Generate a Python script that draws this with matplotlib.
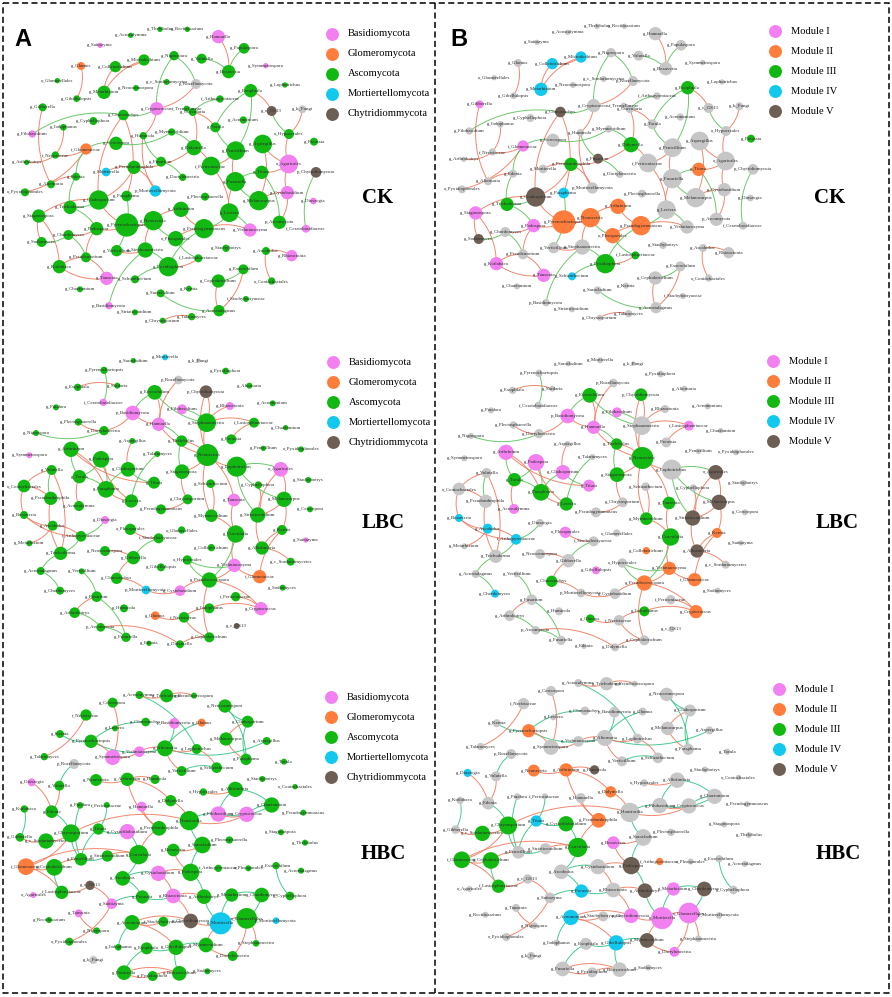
import numpy as np
import matplotlib
matplotlib.use("Agg")
import matplotlib.pyplot as plt
from matplotlib.lines import Line2D

plt.rcParams["font.family"] = ["Liberation Serif", "DejaVu Serif"]

# ---- legend text ----
phylum_labels = ["Basidiomycota", "Glomeromycota", "Ascomycota", "Mortiertellomycota", "Chytridiommycota"]
module_labels = ["Module I", "Module II", "Module III", "Module IV", "Module V"]
treatments = ["CK", "LBC", "HBC"]

phylum_colors = {"B": "#F280F0", "G": "#FF7D3C", "A": "#12B812", "M": "#12C8EC", "C": "#6E5F55", "U": "#C6C6C6"}
module_colors = {1: "#F280F0", 2: "#FF7D3C", 3: "#12B812", 4: "#12C8EC", 5: "#6E5F55", 0: "#C6C6C6"}
pos_color = "#F07A5E"
neg_color = {"CK": "#5CC25C", "LBC": "#5CC25C", "HBC": "#33C483"}

# nodes: (name, x, y, diameter, phylum, module)  -- layout units
CK_nodes = [
    ("g_Thelebolus", 480, 88, 16, "A", 0), ("g_Rectifusarium", 562, 88, 16, "A", 0),
    ("g_Acrocalymma", 392, 106, 16, "A", 0), ("g_Hannaella", 655, 110, 40, "B", 0),
    ("g_Saitozyma", 300, 136, 16, "B", 0), ("g_Papulaspora", 732, 145, 32, "A", 0),
    ("g_Nigrospora", 522, 167, 28, "A", 0), ("g_Volutella", 605, 176, 30, "A", 0),
    ("g_Microdochium", 432, 180, 34, "A", 4), ("g_Glomus", 243, 198, 24, "G", 0),
    ("g_Colletotrichum", 346, 200, 34, "A", 4), ("g_Beauveria", 686, 215, 40, "A", 0),
    ("g_Symmetrospora", 797, 197, 16, "B", 0), ("o_Glomerellales", 172, 242, 16, "A", 0),
    ("g_c_Sordariomycetes", 500, 246, 18, "A", 0), ("p_Rozellomycota", 588, 252, 30, "U", 0),
    ("g_Neocosmospora", 408, 264, 18, "A", 0), ("g_Metarhizium", 312, 277, 40, "A", 4),
    ("g_Lophotrichus", 855, 255, 16, "A", 0), ("g_Exophiala", 752, 272, 40, "A", 3),
    ("g_Gibellulopsis", 230, 296, 20, "A", 0), ("f_Arthopyreniaceae", 660, 297, 22, "A", 0),
    ("g_Gibberella", 128, 322, 24, "A", 1), ("g_Cryptococcus", 470, 326, 40, "B", 0),
    ("f_Tremellaceae", 560, 326, 18, "A", 0), ("g_Clonostachys", 370, 345, 32, "A", 5),
    ("g_Curvularia", 578, 336, 24, "A", 0), ("g_c_GS13", 815, 333, 30, "C", 0),
    ("g_k_Fungi", 907, 328, 24, "U", 0), ("g_Cyphellophora", 280, 363, 24, "A", 0),
    ("g_Iodophanus", 190, 382, 20, "A", 0), ("g_Torula", 646, 382, 30, "A", 0),
    ("g_Acremonium", 730, 360, 22, "A", 0), ("g_Filobasidium", 97, 402, 22, "B", 0),
    ("g_Myrmecridium", 515, 396, 22, "A", 0), ("g_Humicola", 430, 407, 22, "A", 0),
    ("o_Hypocreales", 867, 402, 30, "A", 0), ("g_Preussia", 942, 425, 24, "A", 3),
    ("g_Cercospora", 348, 430, 40, "A", 0), ("f_Glomeraceae", 258, 447, 34, "G", 1),
    ("g_Didymella", 582, 443, 46, "A", 3), ("g_Penicillium", 707, 452, 56, "A", 0),
    ("g_Aspergillus", 788, 432, 56, "A", 0), ("f_Nectriaceae", 166, 465, 22, "A", 0),
    ("g_Arthrobotrys", 80, 487, 16, "A", 0), ("g_Fusarium", 483, 485, 30, "A", 5),
    ("o_Agaricales", 866, 492, 56, "B", 0), ("p_Chytridiomycota", 948, 517, 32, "C", 0),
    ("f_Periconiaceae", 633, 498, 56, "A", 0), ("g_Mortierella", 318, 516, 26, "M", 0),
    ("g_Pseudombrophila", 402, 502, 40, "A", 3), ("g_Titaea", 785, 517, 40, "A", 2),
    ("g_Edenia", 228, 530, 24, "A", 0), ("g_Dactylonectria", 548, 532, 22, "A", 0),
    ("g_Fusariella", 706, 545, 58, "A", 0), ("g_Alternaria", 153, 553, 24, "A", 0),
    ("p_Mortierellomycota", 466, 573, 34, "M", 0), ("o_Pyxidiophorales", 75, 577, 24, "A", 0),
    ("g_Cladosporium", 296, 600, 58, "A", 5), ("g_Paraphoma", 380, 588, 32, "A", 4),
    ("g_Plectosphaerella", 615, 590, 24, "A", 0), ("g_Cystobasidium", 862, 578, 40, "B", 0),
    ("g_Melanocarpus", 776, 602, 58, "A", 0), ("g_Dioszegia", 940, 603, 20, "B", 0),
    ("g_Trichoderma", 210, 622, 40, "A", 3), ("g_Stagonospora", 116, 648, 40, "A", 1),
    ("g_Arthrinium", 543, 628, 46, "A", 2), ("g_Lectera", 688, 638, 56, "A", 0),
    ("g_Podospora", 290, 686, 40, "A", 1), ("g_Pyrenochaetopsis", 380, 675, 70, "A", 2),
    ("g_Neonectria", 460, 662, 58, "A", 2), ("p_Ascomycota", 838, 667, 40, "A", 0),
    ("g_Vishniacozyma", 750, 690, 40, "B", 0), ("f_Ceratobasidiaceae", 918, 686, 24, "B", 0),
    ("g_Chordomyces", 205, 705, 30, "A", 0), ("g_Pseudogymnoascus", 612, 686, 58, "A", 2),
    ("o_Pleosporales", 527, 716, 46, "A", 2), ("g_Sodiomyces", 125, 726, 30, "A", 5),
    ("g_Verticillium", 350, 752, 34, "A", 0), ("g_Stephanonectria", 436, 750, 46, "A", 0),
    ("g_Stachybotrys", 678, 745, 22, "A", 0), ("g_Ascobolus", 798, 753, 24, "A", 0),
    ("g_Rhizoctonia", 875, 767, 34, "B", 0), ("g_Pseudeurotium", 258, 772, 30, "A", 0),
    ("f_Lasiosphaeriaceae", 595, 775, 24, "A", 3), ("g_Pyxidiophora", 505, 800, 58, "A", 3),
    ("g_Kotlabaea", 178, 800, 40, "A", 1), ("g_Exserohilum", 730, 808, 30, "A", 0),
    ("g_Tausonia", 320, 835, 40, "B", 1), ("g_Schizothecium", 405, 838, 24, "A", 4),
    ("g_Cephalotrichum", 655, 843, 40, "A", 0), ("o_Coniochaetales", 815, 843, 22, "A", 0),
    ("g_Chaetomium", 240, 868, 18, "A", 0), ("g_Sarocladium", 482, 880, 24, "A", 0),
    ("g_Kernia", 567, 866, 18, "A", 0), ("f_Stachybotryaceae", 738, 897, 18, "A", 0),
    ("p_Basidiomycota", 327, 917, 22, "B", 0), ("g_Striaticonidium", 405, 937, 18, "A", 0),
    ("g_Acrostalagmus", 657, 932, 34, "A", 0), ("g_Talaromyces", 575, 950, 22, "A", 0),
    ("g_Chrysosporium", 488, 962, 18, "A", 0),
]

# edges: (node, node, sign) ; +1 positive (red), -1 negative (green)
CK_edges = [
    ("g_Glomus", "g_Gibellulopsis", 1), ("g_Colletotrichum", "g_Microdochium", 1),
    ("g_Metarhizium", "g_Microdochium", 1), ("g_Colletotrichum", "g_Metarhizium", 1),
    ("g_Clonostachys", "g_Paraphoma", 1), ("g_Clonostachys", "g_Cladosporium", 1),
    ("g_Hannaella", "g_Beauveria", 1), ("g_Papulaspora", "g_Beauveria", -1),
    ("g_Volutella", "g_Beauveria", -1), ("g_Nigrospora", "g_Cryptococcus", -1),
    ("g_Nigrospora", "p_Rozellomycota", -1), ("g_Cryptococcus", "p_Rozellomycota", 1),
    ("g_Filobasidium", "g_Clonostachys", -1), ("g_Gibberella", "g_Alternaria", 1),
    ("g_Iodophanus", "f_Nectriaceae", 1), ("f_Nectriaceae", "f_Glomeraceae", 1),
    ("f_Nectriaceae", "g_Arthrobotrys", 1), ("o_Pyxidiophorales", "f_Glomeraceae", 1),
    ("g_Alternaria", "g_Edenia", 1), ("f_Glomeraceae", "g_Edenia", -1),
    ("f_Glomeraceae", "g_Cercospora", -1), ("g_Cladosporium", "g_Pseudombrophila", 1),
    ("g_Cladosporium", "g_Trichoderma", -1), ("g_Cladosporium", "g_Stagonospora", 1),
    ("g_Stagonospora", "g_Kotlabaea", 1), ("g_Stagonospora", "g_Sodiomyces", 1),
    ("g_Podospora", "g_Chordomyces", 1), ("g_Podospora", "g_Pyrenochaetopsis", 1),
    ("g_Trichoderma", "g_Podospora", -1), ("g_Sodiomyces", "g_Chordomyces", -1),
    ("g_Chordomyces", "g_Pseudeurotium", -1), ("g_Pyrenochaetopsis", "g_Neonectria", 1),
    ("g_Pyrenochaetopsis", "g_Cladosporium", 1), ("g_Neonectria", "o_Pleosporales", -1),
    ("g_Neonectria", "g_Arthrinium", 1), ("g_Pseudogymnoascus", "o_Pleosporales", 1),
    ("g_Pseudogymnoascus", "g_Arthrinium", 1), ("g_Pseudogymnoascus", "g_Lectera", -1),
    ("g_Pseudogymnoascus", "g_Vishniacozyma", 1), ("g_Pseudogymnoascus", "g_Pyxidiophora", -1),
    ("g_Lectera", "g_Fusariella", 1), ("g_Vishniacozyma", "g_Lectera", -1),
    ("g_Fusariella", "g_Penicillium", 1), ("g_Fusariella", "g_Melanocarpus", -1),
    ("g_Fusariella", "g_Titaea", -1), ("g_Melanocarpus", "g_Aspergillus", 1),
    ("g_Melanocarpus", "g_Cystobasidium", 1), ("g_Aspergillus", "o_Agaricales", 1),
    ("o_Agaricales", "o_Hypocreales", 1), ("o_Agaricales", "g_Cystobasidium", 1),
    ("o_Hypocreales", "g_c_GS13", -1), ("g_c_GS13", "g_Exophiala", 1),
    ("g_k_Fungi", "o_Hypocreales", 1), ("p_Chytridiomycota", "f_Ceratobasidiaceae", -1),
    ("g_Penicillium", "g_Torula", -1), ("g_Torula", "g_Curvularia", 1),
    ("g_Curvularia", "f_Arthopyreniaceae", -1), ("g_Exophiala", "g_Torula", -1),
    ("g_Exophiala", "g_Penicillium", -1), ("f_Periconiaceae", "g_Didymella", 1),
    ("f_Periconiaceae", "g_Lectera", 1), ("g_Didymella", "g_Myrmecridium", -1),
    ("g_Didymella", "g_Pseudombrophila", 1), ("g_Pseudombrophila", "g_Mortierella", 1),
    ("g_Pseudombrophila", "p_Mortierellomycota", 1), ("g_Humicola", "p_Mortierellomycota", 1),
    ("g_Fusarium", "g_Dactylonectria", -1), ("g_Humicola", "g_Fusarium", -1),
    ("g_Myrmecridium", "g_Cercospora", -1), ("g_Clonostachys", "g_Cryptococcus", -1),
    ("g_Paraphoma", "g_Verticillium", -1), ("g_Verticillium", "g_Stephanonectria", 1),
    ("g_Stephanonectria", "g_Pyxidiophora", -1), ("g_Pyxidiophora", "f_Lasiosphaeriaceae", 1),
    ("p_Basidiomycota", "g_Stephanonectria", -1), ("g_Pseudeurotium", "g_Kotlabaea", 1),
    ("g_Tausonia", "g_Kotlabaea", 1), ("g_Tausonia", "g_Pseudeurotium", 1),
    ("g_Ascobolus", "g_Rhizoctonia", 1), ("g_Ascobolus", "o_Coniochaetales", 1),
    ("g_Exserohilum", "g_Cephalotrichum", -1), ("g_Cephalotrichum", "g_Acrostalagmus", 1),
    ("g_Acrostalagmus", "g_Sarocladium", -1), ("g_Talaromyces", "g_Chrysosporium", 1),
    ("g_Exserohilum", "g_Acrostalagmus", 1), ("p_Ascomycota", "g_Titaea", -1),
    ("g_Cystobasidium", "p_Ascomycota", 1), ("o_Pleosporales", "f_Lasiosphaeriaceae", -1),
    ("g_Trichoderma", "g_Edenia", -1), ("g_Titaea", "o_Agaricales", 1),
    ("g_Penicillium", "f_Periconiaceae", 1), ("g_Didymella", "g_Curvularia", 1),
    ("g_Cryptococcus", "g_Humicola", 1), ("g_Podospora", "g_Pseudeurotium", 1),
    ("g_Stephanonectria", "g_Neonectria", 1), ("g_Pyxidiophora", "g_Schizothecium", -1),
]

LBC_nodes = [
    ("g_Sarocladium", 400, 92, 16, "A", 0), ("g_Mortierella", 495, 82, 18, "M", 0),
    ("g_k_Fungi", 595, 92, 14, "U", 0), ("g_Pyrenochaetopsis", 312, 121, 22, "A", 0),
    ("g_Pyxidiophora", 677, 123, 20, "A", 0), ("p_Rozellomycota", 535, 150, 26, "U", 0),
    ("g_Exophiala", 233, 172, 22, "A", 0), ("g_Sordaria", 352, 167, 18, "A", 0),
    ("g_Exserohilum", 464, 187, 44, "A", 3), ("p_Chytridiomycota", 618, 185, 38, "C", 3),
    ("g_Alternaria", 748, 167, 18, "A", 0), ("f_Ceratobasidiaceae", 310, 217, 22, "B", 0),
    ("g_Paralora", 168, 232, 18, "A", 0), ("g_Rhizoctonia", 690, 228, 24, "B", 0),
    ("g_Acremonium", 818, 220, 18, "A", 0), ("p_Basidiomycota", 398, 249, 44, "B", 1),
    ("g_Filobasidium", 546, 238, 30, "B", 1), ("g_Plectosphaerella", 235, 276, 22, "A", 0),
    ("g_Hannaella", 476, 283, 40, "B", 1), ("g_Stephanonectria", 620, 278, 56, "A", 0),
    ("f_Lasiosphaeriaceae", 762, 278, 30, "A", 1), ("g_Chaetomium", 857, 293, 16, "A", 0),
    ("g_Nigrospora", 108, 309, 18, "A", 0), ("g_Dactylonectria", 312, 302, 28, "A", 0),
    ("g_Aspergillus", 397, 333, 18, "A", 0), ("g_Thelebolus", 545, 333, 34, "A", 3),
    ("g_Preussia", 694, 328, 30, "A", 0), ("g_Arthrinium", 213, 358, 46, "A", 1),
    ("g_Symmetrospora", 88, 376, 18, "B", 0), ("g_Talaromyces", 472, 372, 18, "A", 0),
    ("g_Neonectria", 622, 375, 66, "A", 3), ("g_Penicillium", 790, 355, 16, "A", 0),
    ("o_Pyxidiophorales", 903, 358, 18, "A", 0), ("g_Podospora", 303, 388, 50, "A", 1),
    ("g_Volutella", 155, 420, 30, "A", 0), ("g_Cladosporium", 384, 418, 44, "A", 1),
    ("g_Lophotrichus", 710, 410, 60, "A", 0), ("o_Agaricales", 842, 418, 44, "B", 5),
    ("g_Stagonospora", 546, 425, 44, "A", 3), ("g_Stachybotrys", 925, 450, 18, "A", 0),
    ("g_Torula", 238, 440, 40, "A", 3), ("g_Titaea", 462, 458, 36, "A", 1),
    ("o_Coniochaetales", 72, 468, 38, "A", 0), ("g_Schizothecium", 632, 461, 26, "A", 0),
    ("g_Cyphellophora", 775, 465, 22, "A", 0), ("g_Paraphoma", 318, 478, 50, "A", 3),
    ("g_Pseudombrophila", 152, 505, 40, "A", 0), ("g_Chrysosporium", 563, 508, 30, "A", 0),
    ("g_Tausonia", 702, 510, 38, "B", 3), ("g_Lectera", 394, 513, 40, "A", 3),
    ("g_Melanocarpus", 852, 508, 46, "A", 5), ("g_Cercospora", 930, 538, 18, "A", 0),
    ("g_Acrocalymma", 237, 528, 30, "A", 1), ("g_Pseudogymnoascus", 483, 538, 30, "A", 0),
    ("g_Beauveria", 72, 555, 24, "A", 4), ("g_Myrmecridium", 634, 557, 38, "A", 3),
    ("g_Striaticonidium", 773, 555, 46, "A", 5), ("g_Dioszegia", 315, 570, 24, "B", 0),
    ("g_Ascobolus", 158, 587, 30, "A", 4), ("o_Pleosporales", 391, 598, 34, "A", 1),
    ("o_Glomerellales", 545, 600, 22, "A", 0), ("g_Curvularia", 707, 612, 52, "A", 3),
    ("g_Kernia", 846, 600, 30, "A", 2), ("f_Arthopyreniaceae", 243, 619, 32, "A", 4),
    ("f_Stachybotryaceae", 476, 625, 30, "A", 0), ("g_Saitozyma", 918, 630, 16, "B", 0),
    ("g_Metarhizium", 88, 640, 18, "A", 0), ("g_Colletotrichum", 634, 653, 22, "A", 2),
    ("g_Albifimbria", 786, 654, 40, "A", 5), ("g_Trichoderma", 182, 670, 40, "A", 0),
    ("g_Neocosmospora", 315, 663, 30, "A", 0), ("g_Gibberella", 400, 683, 40, "A", 0),
    ("o_Hypocreales", 562, 690, 28, "A", 0), ("g_c_Sordariomycetes", 872, 695, 24, "A", 0),
    ("g_Acrostalagmus", 122, 723, 24, "A", 0), ("g_Verticillium", 245, 724, 18, "A", 0),
    ("g_Gibellulopsis", 483, 712, 24, "A", 1), ("g_Vishniacozyma", 703, 706, 40, "B", 2),
    ("g_Clonostachys", 350, 745, 34, "A", 3), ("g_Pseudocercospora", 628, 750, 46, "A", 2),
    ("f_Glomeraceae", 779, 740, 40, "G", 2), ("g_Chordomyces", 180, 782, 24, "A", 4),
    ("p_Mortierellomycota", 438, 780, 26, "M", 0), ("g_Cystobasidium", 540, 782, 32, "B", 0),
    ("g_Sodiomyces", 848, 773, 18, "A", 0), ("g_Fusarium", 290, 800, 32, "A", 0),
    ("f_Periconiaceae", 707, 800, 28, "A", 0), ("g_Humicola", 372, 835, 24, "A", 0),
    ("g_Arthrobotrys", 224, 848, 32, "A", 0), ("g_Iodophanus", 628, 835, 30, "A", 3),
    ("g_Cryptococcus", 783, 836, 40, "B", 2), ("g_Glomus", 466, 857, 26, "G", 3),
    ("f_Nectriaceae", 552, 862, 32, "A", 0), ("g_c_GS13", 710, 888, 18, "C", 0),
    ("p_Ascomycota", 302, 892, 26, "A", 0), ("g_Fusariella", 378, 922, 28, "A", 0),
    ("g_Edenia", 447, 940, 16, "A", 0), ("g_Didymella", 540, 943, 24, "A", 0),
    ("g_Cephalotrichum", 628, 922, 30, "A", 0),
]

LBC_edges = [
    ("g_Exophiala", "g_Sordaria", 1), ("f_Ceratobasidiaceae", "g_Pyrenochaetopsis", -1),
    ("p_Basidiomycota", "g_Exserohilum", -1), ("p_Basidiomycota", "g_Hannaella", 1),
    ("p_Basidiomycota", "g_Dactylonectria", 1), ("g_Exserohilum", "g_Stephanonectria", -1),
    ("g_Exserohilum", "g_Hannaella", 1), ("p_Rozellomycota", "g_Hannaella", 1),
    ("p_Chytridiomycota", "g_Stephanonectria", 1), ("p_Chytridiomycota", "g_Neonectria", 1),
    ("g_Filobasidium", "g_Stephanonectria", -1), ("g_Rhizoctonia", "g_Stephanonectria", 1),
    ("g_Stephanonectria", "f_Lasiosphaeriaceae", 1), ("f_Lasiosphaeriaceae", "g_Preussia", 1),
    ("g_Neonectria", "g_Stephanonectria", 1), ("g_Neonectria", "g_Thelebolus", 1),
    ("g_Hannaella", "g_Thelebolus", -1), ("g_Hannaella", "g_Neonectria", 1),
    ("g_Neonectria", "g_Stagonospora", 1), ("g_Neonectria", "g_Lophotrichus", 1),
    ("g_Lophotrichus", "o_Agaricales", -1), ("g_Lophotrichus", "g_Striaticonidium", -1),
    ("o_Agaricales", "g_Melanocarpus", 1), ("o_Agaricales", "g_Striaticonidium", 1),
    ("g_Melanocarpus", "g_Striaticonidium", 1), ("g_Striaticonidium", "g_Albifimbria", 1),
    ("g_Albifimbria", "g_Kernia", 1), ("g_Kernia", "g_Melanocarpus", 1),
    ("g_Albifimbria", "g_c_Sordariomycetes", 1), ("g_Curvularia", "g_Myrmecridium", 1),
    ("g_Curvularia", "g_Tausonia", 1), ("g_Curvularia", "g_Vishniacozyma", 1),
    ("g_Vishniacozyma", "g_Pseudocercospora", 1), ("g_Vishniacozyma", "f_Glomeraceae", 1),
    ("f_Glomeraceae", "g_Kernia", 1), ("g_Pseudocercospora", "g_Curvularia", -1),
    ("g_Pseudocercospora", "o_Hypocreales", -1), ("g_Pseudocercospora", "g_Cystobasidium", 1),
    ("g_Pseudocercospora", "g_Cryptococcus", 1), ("g_Cryptococcus", "f_Periconiaceae", 1),
    ("g_Iodophanus", "g_Cryptococcus", 1), ("g_Iodophanus", "f_Nectriaceae", 1),
    ("f_Nectriaceae", "g_Glomus", 1), ("f_Nectriaceae", "g_Cephalotrichum", 1),
    ("g_Cephalotrichum", "g_Pseudocercospora", 1), ("g_Cephalotrichum", "g_Didymella", 1),
    ("p_Ascomycota", "g_Fusariella", -1), ("p_Ascomycota", "g_Arthrobotrys", -1),
    ("g_Fusarium", "g_Fusariella", -1), ("g_Fusarium", "g_Verticillium", -1),
    ("p_Ascomycota", "g_Didymella", 1), ("p_Mortierellomycota", "g_Cystobasidium", 1),
    ("g_Clonostachys", "g_Gibberella", 1), ("g_Gibberella", "g_Neocosmospora", 1),
    ("g_Gibberella", "f_Stachybotryaceae", -1), ("o_Pleosporales", "f_Stachybotryaceae", 1),
    ("g_Dioszegia", "f_Arthopyreniaceae", -1), ("f_Arthopyreniaceae", "g_Ascobolus", 1),
    ("g_Ascobolus", "g_Beauveria", 1), ("g_Beauveria", "f_Arthopyreniaceae", 1),
    ("g_Ascobolus", "g_Metarhizium", 1), ("g_Trichoderma", "g_Acrostalagmus", -1),
    ("g_Trichoderma", "g_Pseudombrophila", 1), ("g_Trichoderma", "f_Arthopyreniaceae", -1),
    ("g_Pseudombrophila", "g_Volutella", -1), ("g_Pseudombrophila", "o_Coniochaetales", 1),
    ("o_Coniochaetales", "g_Volutella", 1), ("o_Coniochaetales", "g_Beauveria", 1),
    ("g_Volutella", "g_Trichoderma", 1), ("g_Arthrinium", "g_Torula", -1),
    ("g_Arthrinium", "g_Paraphoma", 1), ("g_Arthrinium", "g_Titaea", 1),
    ("g_Torula", "g_Paraphoma", -1), ("g_Torula", "g_Podospora", -1),
    ("g_Podospora", "g_Paraphoma", -1), ("g_Podospora", "g_Lectera", 1),
    ("g_Paraphoma", "g_Cladosporium", -1), ("g_Paraphoma", "g_Lectera", 1),
    ("g_Cladosporium", "g_Aspergillus", 1), ("g_Cladosporium", "g_Titaea", -1),
    ("g_Lectera", "g_Talaromyces", -1), ("g_Nigrospora", "g_Dactylonectria", -1),
    ("g_Dactylonectria", "g_Plectosphaerella", 1), ("g_Torula", "g_Acrocalymma", 1),
    ("g_Stagonospora", "g_Thelebolus", -1), ("g_Stagonospora", "g_Chrysosporium", 1),
    ("g_Chrysosporium", "g_Pseudogymnoascus", 1), ("g_Myrmecridium", "g_Schizothecium", 1),
    ("g_Myrmecridium", "g_Neonectria", 1), ("g_Tausonia", "g_Neonectria", 1),
    ("g_Vishniacozyma", "o_Hypocreales", -1), ("g_Striaticonidium", "g_Cyphellophora", 1),
    ("g_Melanocarpus", "g_Lophotrichus", -1), ("g_Chordomyces", "g_Acrostalagmus", -1),
    ("g_Arthrobotrys", "g_Fusarium", 1), ("p_Mortierellomycota", "g_Clonostachys", 1),
]

HBC_nodes = [
    ("g_Acrocalymma", 418, 105, 24, "A", 0), ("g_Trichoderma", 500, 107, 40, "A", 0),
    ("g_Pseudocercospora", 582, 107, 18, "A", 0), ("g_Cercospora", 338, 128, 30, "A", 0),
    ("g_Neocosmospora", 675, 138, 40, "A", 0), ("f_Nectriaceae", 258, 165, 34, "A", 0),
    ("g_Clonostachys", 437, 186, 26, "A", 0), ("p_Basidiomycota", 523, 190, 32, "B", 0),
    ("g_Glomus", 605, 188, 24, "G", 0), ("g_Cladosporium", 743, 185, 36, "A", 0),
    ("g_Kernia", 180, 222, 24, "A", 0), ("g_Lectera", 345, 205, 18, "A", 0),
    ("g_Pyrenochaetopsis", 273, 244, 40, "A", 2), ("g_Melanocarpus", 678, 237, 40, "A", 0),
    ("g_Aspergillus", 800, 243, 24, "A", 0), ("g_Symmetrospora", 338, 292, 46, "B", 0),
    ("g_Vishniacozyma", 418, 275, 32, "B", 0), ("g_Alternaria", 495, 265, 48, "A", 0),
    ("g_Lophotrichus", 590, 267, 30, "A", 0), ("g_Talaromyces", 133, 290, 22, "A", 0),
    ("p_Rozellomycota", 222, 312, 30, "U", 0), ("g_Paraphoma", 738, 298, 34, "A", 0),
    ("g_Torula", 852, 305, 18, "A", 0), ("g_Verticillium", 545, 333, 30, "A", 0),
    ("g_Schizothecium", 650, 323, 32, "A", 0), ("g_Dioszegia", 95, 367, 24, "B", 4),
    ("g_Volutella", 178, 377, 30, "A", 0), ("g_Neonectria", 288, 360, 36, "A", 2),
    ("g_Arthrinium", 382, 358, 40, "A", 2), ("g_Humicola", 465, 358, 28, "A", 5),
    ("g_Stachybotrys", 787, 357, 18, "A", 0), ("o_Hypocreales", 610, 396, 22, "A", 0),
    ("g_Albifimbria", 706, 388, 46, "A", 0), ("o_Coniochaetales", 885, 380, 16, "A", 0),
    ("g_Kotlabaea", 73, 447, 22, "A", 0), ("g_Edenia", 155, 455, 38, "A", 0),
    ("g_Paralora", 240, 436, 20, "A", 0), ("f_Periconiaceae", 320, 435, 18, "A", 0),
    ("g_Hannaella", 425, 440, 30, "B", 0), ("g_Didymella", 512, 422, 34, "A", 2),
    ("g_Chaetomium", 815, 435, 46, "A", 0), ("g_Filobasidium", 655, 462, 46, "B", 0),
    ("g_Cryptococcus", 740, 463, 46, "B", 0), ("g_Pseudogymnoascus", 910, 458, 18, "A", 0),
    ("g_Hansfordia", 568, 482, 58, "A", 0), ("g_Chrysosporium", 213, 520, 54, "A", 3),
    ("g_c_Sordariomycetes", 138, 543, 46, "A", 3), ("g_Gibberella", 60, 532, 26, "A", 0),
    ("g_Titaea", 295, 507, 34, "A", 4), ("g_Cystofilobasidium", 382, 515, 46, "B", 3),
    ("g_Pseudombrophila", 477, 505, 44, "A", 2), ("g_Sarocladium", 607, 555, 50, "A", 0),
    ("g_Plectosphaerella", 688, 540, 22, "A", 0), ("g_Stagonospora", 843, 517, 18, "A", 0),
    ("g_Thelebolus", 915, 548, 18, "A", 0), ("g_Beauveria", 520, 570, 38, "A", 1),
    ("g_Curvularia", 416, 584, 58, "A", 3), ("g_Penicillium", 243, 598, 38, "A", 0),
    ("g_Striaticonidium", 322, 588, 34, "A", 0), ("f_Glomeraceae", 78, 620, 50, "G", 3),
    ("g_Cephalotrichum", 163, 622, 50, "A", 3), ("g_Podospora", 572, 637, 52, "A", 5),
    ("f_Arthopyreniaceae", 655, 625, 22, "A", 2), ("o_Pleosporales", 745, 625, 18, "A", 0),
    ("g_Exserohilum", 828, 617, 22, "A", 0), ("g_Acrostalagmus", 903, 632, 18, "A", 0),
    ("g_Cystobasidium", 475, 640, 46, "B", 0), ("g_Ascobolus", 368, 655, 44, "A", 0),
    ("g_c_GS13", 270, 676, 28, "C", 0), ("o_Agaricales", 100, 705, 18, "B", 0),
    ("f_Lasiosphaeriaceae", 185, 697, 40, "A", 3), ("g_Saitozyma", 335, 731, 32, "B", 0),
    ("g_Preussia", 427, 711, 40, "A", 4), ("g_Rhizoctonia", 520, 708, 44, "B", 0),
    ("g_Arthrobotrys", 612, 710, 44, "A", 5), ("g_Metarhizium", 695, 705, 40, "A", 1),
    ("g_Chordomyces", 785, 705, 44, "A", 5), ("g_Cyphellophora", 870, 708, 26, "A", 0),
    ("g_Tausonia", 236, 760, 24, "B", 0), ("g_Rectifusarium", 147, 780, 18, "A", 0),
    ("g_Acremonium", 396, 788, 46, "A", 4), ("f_Stachybotryaceae", 490, 785, 30, "A", 0),
    ("p_Chytridiomycota", 572, 783, 44, "C", 1), ("g_Mortierella", 662, 790, 66, "M", 1),
    ("o_Glomerellales", 740, 775, 62, "A", 1), ("p_Mortierellomycota", 828, 782, 20, "M", 0),
    ("g_Nigrospora", 290, 812, 20, "A", 0), ("o_Pyxidiophorales", 208, 845, 24, "A", 0),
    ("g_Iodophanus", 355, 862, 20, "A", 0), ("g_Exophiala", 440, 865, 36, "A", 0),
    ("g_Gibellulopsis", 528, 862, 46, "A", 4), ("g_Myrmecridium", 618, 855, 44, "A", 5),
    ("g_Stephanonectria", 768, 850, 20, "A", 0), ("g_Dactylonectria", 698, 888, 30, "A", 1),
    ("g_k_Fungi", 280, 900, 24, "U", 0), ("g_Fusariella", 372, 938, 44, "A", 0),
    ("g_Pyxidiophora", 458, 948, 30, "A", 0), ("g_Botryotrichum", 538, 940, 44, "A", 0),
    ("g_Sodiomyces", 622, 934, 18, "A", 0),
]

HBC_edges = [
    ("g_Acrocalymma", "g_Lophotrichus", -1), ("g_Acrocalymma", "g_Trichoderma", 1),
    ("g_Trichoderma", "g_Pseudocercospora", 1), ("g_Neocosmospora", "g_Cladosporium", -1),
    ("g_Neocosmospora", "g_Paraphoma", -1), ("g_Cladosporium", "g_Paraphoma", -1),
    ("g_Melanocarpus", "g_Cladosporium", 1), ("g_Melanocarpus", "g_Paraphoma", 1),
    ("g_Aspergillus", "g_Alternaria", -1), ("g_Glomus", "g_Alternaria", -1),
    ("p_Basidiomycota", "g_Alternaria", -1), ("g_Clonostachys", "g_Pyrenochaetopsis", -1),
    ("g_Pyrenochaetopsis", "g_Kernia", -1), ("g_Pyrenochaetopsis", "g_Alternaria", -1),
    ("g_Pyrenochaetopsis", "g_Symmetrospora", 1), ("g_Symmetrospora", "g_Cercospora", 1),
    ("f_Nectriaceae", "g_Talaromyces", 1), ("g_Symmetrospora", "g_Vishniacozyma", 1),
    ("g_Vishniacozyma", "g_Alternaria", 1), ("g_Alternaria", "g_Lophotrichus", 1),
    ("g_Lophotrichus", "g_Schizothecium", 1), ("g_Alternaria", "g_Verticillium", 1),
    ("g_Verticillium", "g_Schizothecium", -1), ("p_Rozellomycota", "g_Volutella", -1),
    ("g_Volutella", "g_Edenia", 1), ("g_Edenia", "g_Dioszegia", 1),
    ("g_Kotlabaea", "g_Gibberella", -1), ("g_Gibberella", "g_c_Sordariomycetes", 1),
    ("g_Chrysosporium", "g_c_Sordariomycetes", 1), ("g_Chrysosporium", "g_Penicillium", -1),
    ("g_Chrysosporium", "f_Glomeraceae", 1), ("f_Glomeraceae", "g_Cephalotrichum", 1),
    ("f_Glomeraceae", "f_Lasiosphaeriaceae", 1), ("g_Cephalotrichum", "f_Lasiosphaeriaceae", -1),
    ("g_Cephalotrichum", "g_Penicillium", 1), ("g_Penicillium", "g_Striaticonidium", -1),
    ("g_Penicillium", "g_Titaea", -1), ("g_Titaea", "g_Cystofilobasidium", -1),
    ("g_Striaticonidium", "g_Curvularia", 1), ("g_Curvularia", "g_Cystofilobasidium", -1),
    ("g_Curvularia", "g_Pseudombrophila", 1), ("g_Curvularia", "f_Glomeraceae", 1),
    ("g_Curvularia", "g_Ascobolus", -1), ("g_Neonectria", "g_Arthrinium", 1),
    ("g_Arthrinium", "g_Humicola", 1), ("g_Arthrinium", "g_Pseudombrophila", 1),
    ("g_Arthrinium", "g_Didymella", 1), ("g_Hannaella", "g_Pseudombrophila", 1),
    ("g_Didymella", "g_Hansfordia", 1), ("g_Hansfordia", "g_Sarocladium", -1),
    ("g_Hansfordia", "g_Filobasidium", -1), ("g_Filobasidium", "g_Cryptococcus", 1),
    ("g_Cryptococcus", "g_Chaetomium", -1), ("g_Filobasidium", "g_Chaetomium", -1),
    ("g_Albifimbria", "g_Chaetomium", -1), ("g_Albifimbria", "g_Filobasidium", -1),
    ("g_Albifimbria", "o_Hypocreales", 1), ("g_Hansfordia", "g_Cryptococcus", 1),
    ("g_Sarocladium", "g_Beauveria", 1), ("g_Sarocladium", "g_Podospora", -1),
    ("g_Podospora", "g_Beauveria", 1), ("g_Podospora", "g_Cystobasidium", 1),
    ("g_Podospora", "g_Arthrobotrys", -1), ("g_Cystobasidium", "g_Ascobolus", -1),
    ("g_Ascobolus", "g_Preussia", -1), ("g_Preussia", "g_Rhizoctonia", -1),
    ("g_Rhizoctonia", "g_Arthrobotrys", 1), ("g_Rhizoctonia", "g_Cystobasidium", 1),
    ("g_Rhizoctonia", "p_Chytridiomycota", 1), ("g_Arthrobotrys", "g_Mortierella", -1),
    ("g_Metarhizium", "g_Chordomyces", -1), ("g_Metarhizium", "g_Mortierella", -1),
    ("g_Chordomyces", "o_Glomerellales", -1), ("o_Glomerellales", "g_Mortierella", 1),
    ("g_Mortierella", "p_Chytridiomycota", 1), ("g_Mortierella", "g_Myrmecridium", 1),
    ("o_Glomerellales", "g_Dactylonectria", 1), ("g_Myrmecridium", "g_Gibellulopsis", -1),
    ("g_Gibellulopsis", "g_Exophiala", -1), ("g_Gibellulopsis", "g_Acremonium", 1),
    ("g_Acremonium", "p_Chytridiomycota", 1), ("g_Acremonium", "g_Iodophanus", -1),
    ("g_Fusariella", "g_Exophiala", -1), ("g_Fusariella", "g_Pyxidiophora", 1),
    ("g_Botryotrichum", "g_Gibellulopsis", -1), ("g_Botryotrichum", "g_Pyxidiophora", 1),
    ("g_Fusariella", "g_Botryotrichum", 1), ("g_Exserohilum", "g_Cyphellophora", -1),
    ("g_c_GS13", "f_Lasiosphaeriaceae", 1), ("o_Pyxidiophorales", "g_Saitozyma", 1),
    ("g_Saitozyma", "g_Preussia", -1), ("g_Saitozyma", "g_c_GS13", 1),
    ("g_Edenia", "g_Chrysosporium", -1), ("g_Paralora", "g_Penicillium", -1),
    ("f_Periconiaceae", "g_Titaea", -1), ("g_Acremonium", "f_Stachybotryaceae", 1),
    ("g_Nigrospora", "g_Tausonia", 1), ("g_Hansfordia", "g_Chrysosporium", 1),
    ("o_Glomerellales", "g_Stephanonectria", 1), ("g_Myrmecridium", "g_Dactylonectria", 1),
]

FIG_W, FIG_H = 892, 997
fig = plt.figure(figsize=(FIG_W / 100, FIG_H / 100), dpi=100)

def px_axes(left, top, w, h):
    return fig.add_axes([left / FIG_W, 1 - (top + h) / FIG_H, w / FIG_W, h / FIG_H])

# background axes in pixel units (frame, letters, legends)
bg = px_axes(0, 0, FIG_W, FIG_H)
bg.set_xlim(0, FIG_W)
bg.set_ylim(FIG_H, 0)
bg.axis("off")
dash = dict(color="black", lw=1.1, linestyle=(0, (4, 2.2)))
bg.add_line(Line2D([3, 889, 889, 3, 3], [3, 3, 993, 993, 3], **dash))
bg.add_line(Line2D([435, 435], [3, 993], **dash))
bg.text(23, 39, "A", fontsize=17, fontweight="bold", family="Liberation Sans", ha="center", va="center")
bg.text(459, 39, "B", fontsize=17, fontweight="bold", family="Liberation Sans", ha="center", va="center")

# network panels: (nodes, edges, name, A-axes rect, B-axes rect, label x A, label x B, label y)
panels = [
    (CK_nodes, CK_edges, "CK", (0, 0, 447, 330), (437, -3, 447, 330), 378, 830, 198),
    (LBC_nodes, LBC_edges, "LBC", (0, 330, 447, 330), (435, 333, 447, 330), 383, 837, 523),
    (HBC_nodes, HBC_edges, "HBC", (0, 660, 447, 337), (435, 647, 460, 347), 383, 838, 854),
]
legend_rows = {"CK": ((332, 34), (775, 31)), "LBC": ((333, 362), (773, 361)), "HBC": ((331, 697), (779, 689))}

PT_PER_UNIT = 0.24  # 1 layout unit = 1/3 px


def bezier(p0, p1, rad):
    p0, p1 = np.asarray(p0, float), np.asarray(p1, float)
    mid = (p0 + p1) / 2
    d = p1 - p0
    normal = np.array([-d[1], d[0]])
    c = mid + rad * normal
    t = np.linspace(0, 1, 30)[:, None]
    return (1 - t) ** 2 * p0 + 2 * t * (1 - t) * c + t ** 2 * p1


def draw_network(ax, nodes, edges, tname, by_module, h_units):
    ax.set_xlim(0, 1341)
    ax.set_ylim(h_units, 0)
    ax.axis("off")
    pos = {n[0]: (n[1], n[2]) for n in nodes}
    for i, (a, b, s) in enumerate(edges):
        if a not in pos or b not in pos:
            print("missing", tname, a, b)
            continue
        rad = 0.2 if i % 2 else -0.2
        pts = bezier(pos[a], pos[b], rad)
        ax.plot(pts[:, 0], pts[:, 1], color=pos_color if s > 0 else neg_color[tname],
                lw=0.7, alpha=0.9, zorder=1, solid_capstyle="round")
    xs = [n[1] for n in nodes]
    ys = [n[2] for n in nodes]
    sizes = [(n[3] * PT_PER_UNIT) ** 2 for n in nodes]
    if by_module:
        cols = [module_colors[n[5]] for n in nodes]
    else:
        cols = [phylum_colors[n[4]] for n in nodes]
    ax.scatter(xs, ys, s=sizes, c=cols, edgecolors="none", zorder=2)
    for n in nodes:
        ax.text(n[1], n[2], n[0], fontsize=3.5, color="#2a2a2a", ha="center", va="center",
                zorder=3)


for nodes, edges, tname, rectA, rectB, lxA, lxB, ly in panels:
    h_units = rectA[3] * 3
    axA = px_axes(*rectA)
    draw_network(axA, nodes, edges, tname, False, h_units)
    axB = px_axes(*rectB)
    draw_network(axB, nodes, edges, tname, True, h_units)

    bg.text(lxA, ly, tname, fontsize=15, fontweight="bold", ha="center", va="center")
    bg.text(lxB, ly, tname, fontsize=15, fontweight="bold", ha="center", va="center")

    (ax0, ay0), (bx0, by0) = legend_rows[tname]
    for k in range(5):
        bg.plot(ax0, ay0 + 20 * k, "o", ms=9.3, color=phylum_colors["BGAMC"[k]], mec="none")
        bg.text(ax0 + 16, ay0 + 20 * k, phylum_labels[k], fontsize=7.6, va="center", ha="left")
        bg.plot(bx0, by0 + 20 * k, "o", ms=9.3, color=module_colors[k + 1], mec="none")
        bg.text(bx0 + 16, by0 + 20 * k, module_labels[k], fontsize=7.6, va="center", ha="left")

fig.savefig("out.png", dpi=100)
